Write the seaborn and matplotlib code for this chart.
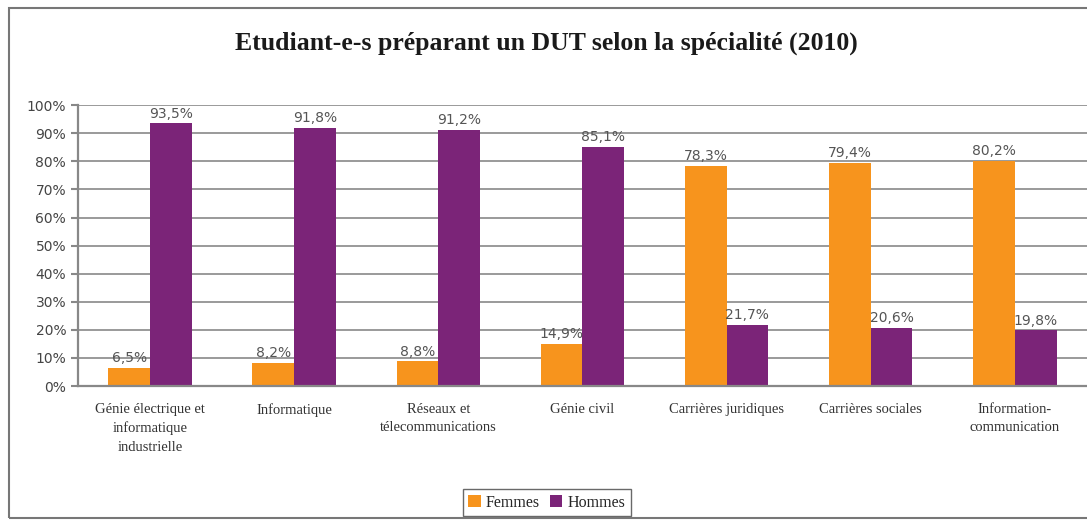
import seaborn as sns
import matplotlib.pyplot as plt
import pandas as pd
from matplotlib.patches import Rectangle
from matplotlib.ticker import FixedLocator

# data
specialites = ["Génie électrique et\ninformatique\nindustrielle", "Informatique",
               "Réseaux et\ntélecommunications", "Génie civil",
               "Carrières juridiques", "Carrières sociales",
               "Information-\ncommunication"]
femmes = [6.5, 8.2, 8.8, 14.9, 78.3, 79.4, 80.2]
hommes = [93.5, 91.8, 91.2, 85.1, 21.7, 20.6, 19.8]
series = ["Femmes", "Hommes"]
colors = ["#F7941D", "#7B2478"]

df = pd.DataFrame({
    "specialite": specialites * 2,
    "sexe": ["Femmes"] * len(femmes) + ["Hommes"] * len(hommes),
    "pct": femmes + hommes,
})

sns.set_style("white")
serif = ["Liberation Serif", "DejaVu Serif"]
sans = ["DejaVu Sans"]

fig = plt.figure(figsize=(10.87, 5.21), dpi=100)
ax = fig.add_axes([0.0718, 0.259, 0.928, 0.539])

sns.barplot(data=df, x="specialite", y="pct", hue="sexe", palette=colors,
            hue_order=series, width=0.58, gap=0, ax=ax, legend=True,
            errorbar=None, saturation=1, linewidth=0)

for cont in ax.containers:
    labels = [("%.1f%%" % b.get_height()).replace(".", ",") for b in cont]
    ax.bar_label(cont, labels=labels, padding=2, fontsize=10, color="#555555",
                 family=sans)

ax.set_ylim(0, 100)
ax.set_xlim(-0.5, len(specialites) - 0.5)
ax.set_yticks(range(0, 101, 10))
ax.set_yticklabels(["%d%%" % v for v in range(0, 101, 10)], fontsize=10,
                   color="#444444", family=sans)
ax.yaxis.grid(True, color="#9a9a9a", linewidth=1.4)
ax.set_axisbelow(True)
ax.set_xlabel("")
ax.set_ylabel("")
ax.tick_params(axis="x", length=0, pad=12)
for lbl in ax.get_xticklabels():
    lbl.set_family(serif)
    lbl.set_fontsize(10.5)
    lbl.set_color("#333333")
    lbl.set_linespacing(1.55)
ax.xaxis.set_minor_locator(FixedLocator([i + 0.5 for i in range(len(specialites) - 1)]))
ax.tick_params(axis="x", which="minor", length=5, color="#555555", width=1)
ax.tick_params(axis="y", length=5, color="#888888", width=1.5, left=True)

for side in ["top", "right"]:
    ax.spines[side].set_visible(False)
for side in ["left", "bottom"]:
    ax.spines[side].set_color("#888888")
    ax.spines[side].set_linewidth(1.6)

fig.suptitle("Etudiant-e-s préparant un DUT selon la spécialité (2010)",
             x=0.503, y=0.94, fontsize=18.5, fontweight="bold", family=serif,
             color="#1a1a1a")

leg = ax.legend(loc="center", bbox_to_anchor=(0.503, 0.035),
                bbox_transform=fig.transFigure, ncol=2, frameon=True,
                prop={"family": serif, "size": 11.5}, handlelength=0.8,
                handleheight=0.8, handletextpad=0.3, columnspacing=0.6,
                borderpad=0.35, fancybox=False)
leg.get_frame().set_edgecolor("#444444")
leg.get_frame().set_linewidth(1.0)

# outer frame of the chart
fig.patches.append(Rectangle((0.008, 0.006), 1.2, 0.978, transform=fig.transFigure,
                             fill=False, edgecolor="#777777", linewidth=1.5))

fig.savefig("out.png", dpi=100)
